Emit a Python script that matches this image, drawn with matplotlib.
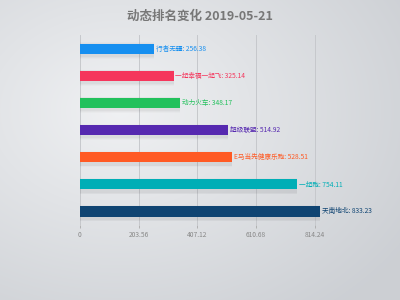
import numpy as np
import matplotlib
matplotlib.use('Agg')
import matplotlib.pyplot as plt

plt.rcParams['font.family'] = ['Noto Sans CJK SC', 'DejaVu Sans']

# data, bottom to top
names = ['天南地北', '一起跑', 'E马当先健康乐跑', '超级联盟', '动力火车', '一起幸福一起飞', '行者无疆']
values = [833.23, 754.11, 528.51, 514.92, 348.17, 325.14, 256.38]
colors = ['#0f4472', '#00aeb6', '#ff5a24', '#5629b0', '#22c15c', '#f5365c', '#168ff0']
ticks = [0, 203.56, 407.12, 610.68, 814.24]

fig = plt.figure(figsize=(4, 3), dpi=100)

# background gradient
bg = fig.add_axes([0, 0, 1, 1])
yy, xx = np.mgrid[0:300, 0:400]
d = np.sqrt(((xx - 120) / 400.0) ** 2 + ((yy - 110) / 300.0) ** 2)
d = np.clip(d / 0.85, 0, 1)
c0 = np.array([0.94, 0.945, 0.953])
c1 = np.array([0.80, 0.812, 0.830])
img = c0[None, None, :] * (1 - d[..., None]) + c1[None, None, :] * d[..., None]
bg.imshow(img, aspect='auto', extent=[0, 1, 0, 1])
bg.axis('off')

ax = fig.add_axes([0.2, 0.25, 0.6, 0.633])
ax.patch.set_alpha(0)
y = np.arange(len(names))

# soft shadows below bars
for k, a in [(0.22, 0.025), (0.16, 0.035), (0.10, 0.045)]:
    ax.barh(y - 0.07, values, height=0.38 + k, color='#444444', alpha=a,
            linewidth=0, zorder=2)
ax.barh(y, values, height=0.38, color=colors, zorder=3)

for i in range(len(names)):
    ax.text(values[i] + 6, y[i], names[i] + ': ' + format(values[i], '.2f'),
            va='center', ha='left', fontsize=4.8, color=colors[i], zorder=4)

ax.set_xlim(0, 833.23)
ax.set_ylim(-0.5, len(names) - 0.5)
ax.set_xticks(ticks)
ax.set_xticklabels(['0', '203.56', '407.12', '610.68', '814.24'], fontsize=4.8, color='#888888')
ax.set_yticks([])
ax.grid(axis='x', color='#c6c8cc', linewidth=0.7, zorder=1)
ax.tick_params(axis='x', length=2.5, width=0.6, color='#aaaaaa', pad=2)
for s in ax.spines.values():
    s.set_visible(False)

fig.text(0.5, 0.945, '动态排名变化 2019-05-21', ha='center', va='center',
         fontsize=9, fontweight='bold', color='#777777')

fig.savefig('out.png', dpi=100)
